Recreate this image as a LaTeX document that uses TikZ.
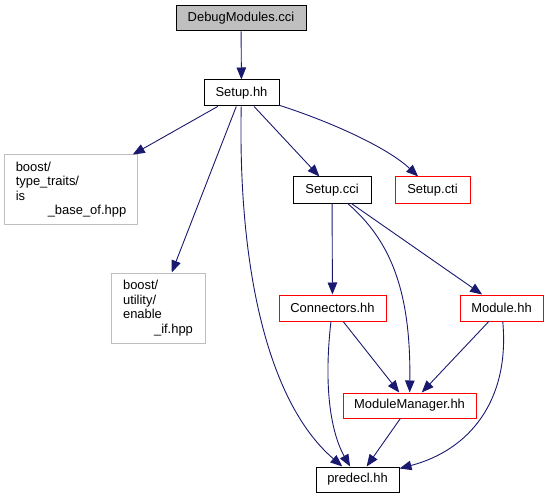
\documentclass[tikz,border=0pt]{standalone}
\usepackage{fontspec}
\setmainfont{Liberation Sans}
\usetikzlibrary{arrows.meta}

\definecolor{edgeblue}{HTML}{191970}
\definecolor{boxgray}{HTML}{BFBFBF}

\begin{document}
\begin{tikzpicture}[x=1bp,y=-1bp,
  file/.style={draw=black, line width=1bp, minimum height=25bp, inner sep=0pt, font=\fontsize{13}{14.5}\selectfont},
  redfile/.style={file, draw=red},
  sysfile/.style={file, draw=boxgray, align=left, inner xsep=10bp},
  incl/.style={draw=edgeblue, line width=0.9bp, -{Triangle[length=12bp,width=9.5bp]}}]
% fix the page size
\useasboundingbox (0,0) rectangle (549,499);

% define the files
\node[file, fill=boxgray, minimum width=130bp] (debug) at (241,18.5) {DebugModules.cci};
\node[file, minimum width=75bp, minimum height=26bp] (setuphh) at (241.5,93) {Setup.hh};
\node[sysfile, minimum width=132bp, minimum height=69bp] (traits) at (71,189.5)
  {boost/\\type\_traits/\\is\\\hspace*{32bp}\_base\_of.hpp};
\node[sysfile, minimum width=94bp, minimum height=70bp] (enable) at (158,308)
  {boost/\\utility/\\enable\\\hspace*{31bp}\_if.hpp};
\node[file, minimum width=78bp, minimum height=26bp] (setupcci) at (332,190) {Setup.cci};
\node[redfile, minimum width=75bp, minimum height=26bp] (setupcti) at (432.5,190) {Setup.cti};
\node[redfile, minimum width=107bp, minimum height=26bp] (conn) at (332.5,308) {Connectors.hh};
\node[redfile, minimum width=83bp, minimum height=26bp] (module) at (501.5,308) {Module.hh};
\node[redfile, minimum width=133bp] (manager) at (409.5,405.5) {ModuleManager.hh};
\node[file, minimum width=83bp] (predecl) at (357.5,479.5) {predecl.hh};

% includes
\draw[incl] (debug) -- (setuphh);
\draw[incl] (setuphh) -- (traits);
\draw[incl] (setuphh) -- (enable);
\draw[incl] (setuphh) .. controls (238,260) and (265,400) .. (predecl);
\draw[incl] (setuphh) -- (setupcci);
\draw[incl] (setuphh) .. controls (340,125) and (390,150) .. (setupcti);
\draw[incl] (setupcci) -- (conn);
\draw[incl] (setupcci) .. controls (390,240) and (411,290) .. (manager);
\draw[incl] (setupcci) -- (module);
\draw[incl] (conn) -- (manager);
\draw[incl] (conn) .. controls (322,400) and (335,440) .. (predecl);
\draw[incl] (module) -- (manager);
\draw[incl] (module) .. controls (510,400) and (470,450) .. (predecl);
\draw[incl] (manager) -- (predecl);
\end{tikzpicture}
\end{document}
